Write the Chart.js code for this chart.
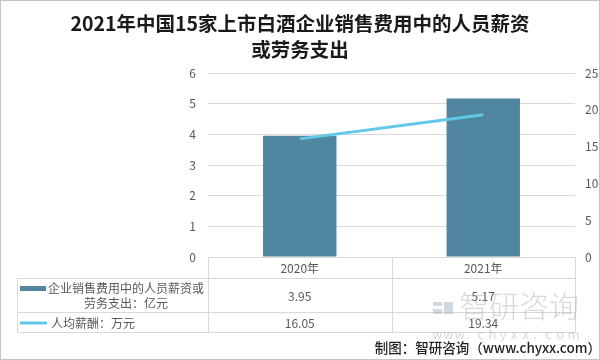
<!DOCTYPE html>
<html><head><meta charset="utf-8">
<script src="https://cdn.jsdelivr.net/npm/chart.js@4/dist/chart.umd.min.js"></script>
<style>html,body{margin:0;padding:0;background:#fff}#wrap{width:600px;height:360px;position:relative}</style>
</head><body><div id="wrap"><canvas id="c" width="600" height="360"></canvas></div>
<script>
const titleLines = ['2021年中国15家上市白酒企业销售费用中的人员薪资', '或劳务支出'];
const categories = ['2020年', '2021年'];
const expenseValues = [3.95, 5.17];
const salaryValues = [16.05, 19.34];
const seriesNames = ['企业销售费用中的人员薪资或劳务支出：亿元', '人均薪酬：万元'];
const legendLines = [['企业销售费用中的人员薪资或', '劳务支出：亿元'], ['人均薪酬：万元']];
const leftTicks = [0, 1, 2, 3, 4, 5, 6];
const rightTicks = [0, 5, 10, 15, 20, 25];
const sourceText = '制图：智研咨询（www.chyxx.com）';

const FONT = '"Noto Sans CJK SC", "Noto Sans", sans-serif';
const BAR_COLOR = '#50869f';
const LINE_COLOR = '#62c8e8';
const GRID = '#d9d9d9';
const TXT = '#595959';

const tablePlugin = {
  id: 'tablePlugin',
  afterDraw(chart) {
    const ctx = chart.ctx;
    const a = chart.chartArea;
    const xs = chart.scales.x;
    const legendLeft = 17;
    const r0 = a.bottom, r1 = a.bottom + 21, r2 = a.bottom + 55, r3 = a.bottom + 75;
    const mid = (xs.getPixelForValue(0) + xs.getPixelForValue(1)) / 2;
    ctx.save();
    // title
    ctx.fillStyle = '#1a1a1a';
    ctx.textAlign = 'center';
    ctx.textBaseline = 'middle';
    ctx.font = 'bold 19.5px ' + FONT;
    titleLines.forEach((t, i) => ctx.fillText(t, 300, 24 + i * 26));
    // table lines
    ctx.strokeStyle = GRID;
    ctx.lineWidth = 1;
    ctx.beginPath();
    [a.left, mid, a.right].forEach(x => { ctx.moveTo(Math.round(x) + 0.5, r0); ctx.lineTo(Math.round(x) + 0.5, r3); });
    ctx.moveTo(legendLeft + 0.5, r1); ctx.lineTo(legendLeft + 0.5, r3);
    [r1, r2, r3].forEach(y => { ctx.moveTo(legendLeft, y + 0.5); ctx.lineTo(a.right, y + 0.5); });
    ctx.stroke();
    // header and values
    ctx.fillStyle = TXT;
    ctx.font = '12px ' + FONT;
    categories.forEach((c, i) => ctx.fillText(c, xs.getPixelForValue(i), (r0 + r1) / 2 + 1));
    expenseValues.forEach((v, i) => ctx.fillText(v.toFixed(2), xs.getPixelForValue(i), (r1 + r2) / 2 + 1));
    salaryValues.forEach((v, i) => ctx.fillText(v.toFixed(2), xs.getPixelForValue(i), (r2 + r3) / 2 + 1));
    // legend cells
    ctx.fillStyle = BAR_COLOR;
    ctx.fillRect(20, r1 + 8, 26, 5);
    ctx.fillStyle = TXT;
    ctx.fillText(legendLines[0][0], 126, r1 + 10);
    ctx.fillText(legendLines[0][1], 126, r1 + 25);
    ctx.strokeStyle = LINE_COLOR;
    ctx.lineWidth = 3;
    ctx.beginPath(); ctx.moveTo(20, (r2 + r3) / 2 + 1); ctx.lineTo(47, (r2 + r3) / 2 + 1); ctx.stroke();
    ctx.textAlign = 'left';
    ctx.fillText(legendLines[1][0], 51, (r2 + r3) / 2 + 1);
    // watermark
    ctx.globalAlpha = 0.4;
    ctx.fillStyle = '#8fa3b3';
    ctx.fillRect(433, 302, 9, 4);
    ctx.fillRect(433, 309, 9, 5);
    ctx.fillRect(444, 302, 9, 12);
    ctx.fillStyle = '#9aa0a6';
    ctx.font = '300 30px ' + FONT;
    ctx.textAlign = 'left';
    ctx.fillText('智研咨询', 459, 306);
    ctx.font = '13px ' + FONT;
    const wm = 'www.chyxx.com';
    for (let i = 0; i < wm.length; i++) ctx.fillText(wm[i], 432 + i * 11.3, 334);
    ctx.globalAlpha = 1;
    // source
    ctx.fillStyle = '#1f1f1f';
    ctx.textAlign = 'right';
    ctx.font = '500 13.5px ' + FONT;
    ctx.fillText(sourceText, 601, 348);
    // frame
    ctx.strokeStyle = '#c4c4c4';
    ctx.lineWidth = 1;
    ctx.strokeRect(0.5, 0.5, 599, 359);
    ctx.restore();
  }
};

new Chart(document.getElementById('c'), {
  type: 'bar',
  data: {
    labels: categories,
    datasets: [
      { type: 'line', label: seriesNames[1], data: salaryValues, yAxisID: 'y1', borderColor: LINE_COLOR, backgroundColor: LINE_COLOR, borderWidth: 3, pointRadius: 0, tension: 0, order: 0 },
      { type: 'bar', label: seriesNames[0], data: expenseValues, yAxisID: 'y', backgroundColor: BAR_COLOR, barPercentage: 0.4, categoryPercentage: 1, order: 1 }
    ]
  },
  options: {
    responsive: false,
    animation: false,
    devicePixelRatio: 1,
    layout: { padding: { top: 73, bottom: 103, left: 0, right: 0 } },
    plugins: { legend: { display: false }, tooltip: { enabled: false }, title: { display: false } },
    scales: {
      x: { display: false },
      y: {
        position: 'left', min: leftTicks[0], max: leftTicks[leftTicks.length - 1],
        afterBuildTicks(s) { s.ticks = leftTicks.map(v => ({ value: v })); },
        afterFit(s) { s.width = 208; },
        grid: { color: GRID, drawTicks: false },
        border: { display: false },
        ticks: { padding: 12, color: TXT, font: { size: 12, family: FONT } }
      },
      y1: {
        position: 'right', min: rightTicks[0], max: rightTicks[rightTicks.length - 1],
        afterBuildTicks(s) { s.ticks = rightTicks.map(v => ({ value: v })); },
        afterFit(s) { s.width = 25; },
        grid: { display: false, drawTicks: false },
        border: { display: false },
        ticks: { padding: 10, color: TXT, font: { size: 12, family: FONT } }
      }
    }
  },
  plugins: [tablePlugin]
});
</script></body></html>
